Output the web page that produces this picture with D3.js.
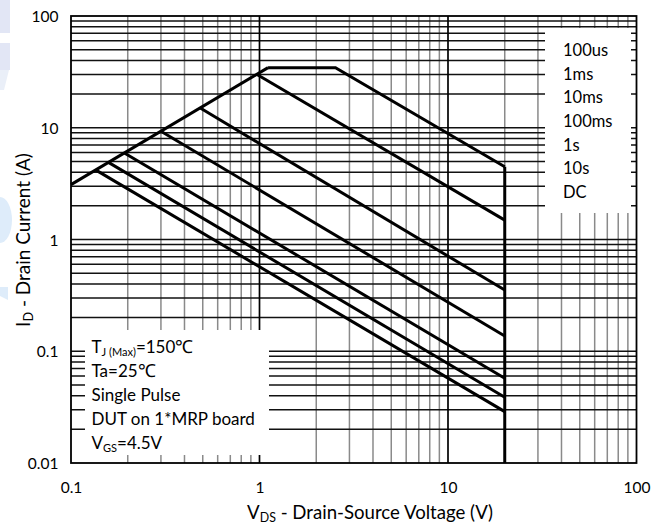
<!DOCTYPE html>
<html>
<head>
<meta charset="utf-8">
<script src="https://cdn.jsdelivr.net/npm/d3@7"></script>
<style>
  html, body { margin: 0; padding: 0; background: #fff; }
  svg { display: block; }
  text { font-family: Lato, "Open Sans", sans-serif; fill: #000; }
</style>
</head>
<body>
<svg id="chart" width="667" height="524"></svg>
<script>
// ---------------- data ----------------
const xTickValues = [0.1, 1, 10, 100];
const xTickLabels = ["0.1", "1", "10", "100"];
const yTickValues = [0.01, 0.1, 1, 10, 100];
const yTickLabels = ["0.01", "0.1", "1", "10", "100"];

const legendLabels = ["100us", "1ms", "10ms", "100ms", "1s", "10s", "DC"];

// RDS(on) limit (rising line)
const limitV = [0.1, 1.11];
const limitI = [3.1, 34.5];
// 100us: flat top then descending to VDS max
const us100V = [1.11, 2.53, 20];
const us100I = [34.5, 34.5, 4.48];
// VDS max boundary
const vmaxV = [20, 20];
const vmaxI = [4.48, 0.01];
// descending pulse lines (start on limit line, end at 20 V)
const ms1V = [0.97, 20];   const ms1I = [30.0, 1.49];
const ms10V = [0.485, 20]; const ms10I = [15.0, 0.353];
const ms100V = [0.3, 20];  const ms100I = [9.3, 0.137];
const s1V = [0.192, 20];   const s1I = [5.95, 0.0573];
const s10V = [0.158, 20];  const s10I = [4.9, 0.0387];
const dcV = [0.135, 20];   const dcI = [4.2, 0.0288];

const noteLines = ["TJ", "Ta=25", "Single Pulse", "DUT on 1*MRP board", "VGS"];

// ---------------- layout ----------------
const svg = d3.select("#chart");
const L = 71, R = 636.5, T = 16, B = 463;
const x = d3.scaleLog().domain([0.1, 100]).range([L, R]);
const y = d3.scaleLog().domain([0.01, 100]).range([B, T]);

// scale a text element's font so that its rendered width matches a target
function fit(sel, width) {
  const node = sel.node();
  const w = node.getComputedTextLength();
  const f = width / w;
  const base = parseFloat(sel.attr("font-size"));
  sel.attr("font-size", base * f);
  sel.selectAll("tspan").each(function () {
    const t = d3.select(this);
    const fs = t.attr("font-size");
    if (fs) t.attr("font-size", parseFloat(fs) * f);
    const dy = t.attr("dy");
    if (dy) t.attr("dy", parseFloat(dy) * f);
  });
  return f;
}

// watermark fragments at the left edge
const wm = svg.append("g");
wm.append("rect").attr("x", 0).attr("y", 0).attr("width", 10).attr("height", 33).attr("fill", "#e2e6f5");
wm.append("rect").attr("x", 0).attr("y", 43).attr("width", 10).attr("height", 27).attr("fill", "#e2e6f5");
wm.append("path").attr("d", "M0,70 L9,70 L4,90 L0,90 Z").attr("fill", "#eaeff8");
wm.append("ellipse").attr("cx", 0).attr("cy", 220).attr("rx", 12).attr("ry", 23).attr("fill", "#deecfa");
wm.append("path").attr("d", "M0,287 L8,287 L8,300 L0,296 Z").attr("fill", "#deecfa");

// ---------------- grid ----------------
const minorX = [], majorX = [];
[0.1, 1, 10].forEach(d => { for (let k = 1; k <= 9; k++) { const v = d * k; if (k === 1) { if (v > 0.1) majorX.push(v); } else minorX.push(v); } });
const gridY = [];
[0.01, 0.1, 1, 10].forEach(d => { for (let k = 1; k <= 9; k++) { const v = d * k; if (v > 0.01) gridY.push(v); } });

const grid = svg.append("g");
grid.selectAll("line.gx").data(minorX).enter().append("line")
  .attr("x1", d => x(d)).attr("x2", d => x(d)).attr("y1", T).attr("y2", B)
  .attr("stroke", "#8a8a8a").attr("stroke-width", 1.5);
grid.selectAll("line.gy").data(gridY).enter().append("line")
  .attr("x1", L).attr("x2", R).attr("y1", d => y(d)).attr("y2", d => y(d))
  .attr("stroke", "#111").attr("stroke-width", 1.5);
grid.selectAll("line.gX").data(majorX).enter().append("line")
  .attr("x1", d => x(d)).attr("x2", d => x(d)).attr("y1", T).attr("y2", B)
  .attr("stroke", "#000").attr("stroke-width", 1.7);

// white boxes
svg.append("rect").attr("x", 545).attr("y", 28).attr("width", 86).attr("height", 185).attr("fill", "#fff");
svg.append("rect").attr("x", 85).attr("y", 330).attr("width", 184).attr("height", 125).attr("fill", "#fff");

// ---------------- curves ----------------
const line = d3.line().x(d => x(d[0])).y(d => y(d[1]));
const curves = [
  [limitV, limitI], [us100V, us100I], [vmaxV, vmaxI],
  [ms1V, ms1I], [ms10V, ms10I], [ms100V, ms100I], [s1V, s1I], [s10V, s10I], [dcV, dcI]
];
svg.append("g").selectAll("path").data(curves).enter().append("path")
  .attr("d", c => line(c[0].map((v, i) => [v, c[1][i]])))
  .attr("fill", "none").attr("stroke", "#000").attr("stroke-width", 3)
  .attr("stroke-linejoin", "miter");

// border
svg.append("rect").attr("x", L).attr("y", T).attr("width", R - L).attr("height", B - T)
  .attr("fill", "none").attr("stroke", "#000").attr("stroke-width", 1.8);

// ---------------- axes labels ----------------
const xAxis = d3.axisBottom(x).tickValues(xTickValues).tickFormat((d, i) => xTickLabels[i]).tickSize(0).tickPadding(0);
const gx = svg.append("g").attr("transform", `translate(0,${B})`).call(xAxis);
gx.select(".domain").remove();
gx.selectAll("text").attr("y", 30).attr("dy", 0).attr("font-size", 15.5).style("font-family", "Lato");

const yAxis = d3.axisLeft(y).tickValues(yTickValues).tickFormat((d, i) => yTickLabels[i]).tickSize(0).tickPadding(0);
const gy = svg.append("g").attr("transform", `translate(58.5,0)`).call(yAxis);
gy.select(".domain").remove();
gy.selectAll("text").attr("x", 0).attr("dy", "0.36em").attr("font-size", 15.5).style("font-family", "Lato");

// x title
const xt = svg.append("text").attr("x", 370).attr("y", 519).attr("text-anchor", "middle").attr("font-size", 16.5);
xt.append("tspan").text("V");
xt.append("tspan").attr("font-size", 11).attr("dy", 3).text("DS");
xt.append("tspan").attr("dy", -3).text(" - Drain-Source Voltage (V)");
fit(xt, 246);

// y title
const yt = svg.append("text").attr("transform", "translate(30,240) rotate(-90)").attr("text-anchor", "middle").attr("font-size", 16.5);
yt.append("tspan").text("I");
yt.append("tspan").attr("font-size", 11).attr("dy", 3).text("D");
yt.append("tspan").attr("dy", -3).text(" - Drain Current (A)");
fit(yt, 174);

// legend
const lg = svg.append("g").selectAll("text").data(legendLabels).enter().append("text")
  .attr("x", 563).attr("y", (d, i) => 50 + i * 23.7).attr("dy", "0.36em")
  .attr("font-size", 16.5).text(d => d);

// notes
const nx = 91.5, ny0 = 346.5, nstep = 24, nfs = 17;
const n1 = svg.append("text").attr("x", nx).attr("y", ny0).attr("dy", "0.36em").attr("font-size", nfs);
n1.append("tspan").text("T");
n1.append("tspan").attr("font-size", 11).attr("dy", 3).text("J (Max)");
n1.append("tspan").attr("dy", -3).text("=150");
n1.append("tspan").style("font-family", "'Liberation Serif', serif").attr("font-size", 18).text("\u2103");

const n2 = svg.append("text").attr("x", nx).attr("y", ny0 + nstep).attr("dy", "0.36em").attr("font-size", nfs);
n2.append("tspan").text(noteLines[1]);
n2.append("tspan").style("font-family", "'Liberation Serif', serif").attr("font-size", 18).text("\u2103");

svg.append("text").attr("x", nx).attr("y", ny0 + 2 * nstep).attr("dy", "0.36em").attr("font-size", nfs).text(noteLines[2]);
const n4 = svg.append("text").attr("x", nx).attr("y", ny0 + 3 * nstep).attr("dy", "0.36em").attr("font-size", nfs).text(noteLines[3]);

const n5 = svg.append("text").attr("x", nx).attr("y", ny0 + 4 * nstep).attr("dy", "0.36em").attr("font-size", nfs);
n5.append("tspan").text("V");
n5.append("tspan").attr("font-size", 11).attr("dy", 3).text("GS");
n5.append("tspan").attr("dy", -3).text("=4.5V");
</script>
</body>
</html>
